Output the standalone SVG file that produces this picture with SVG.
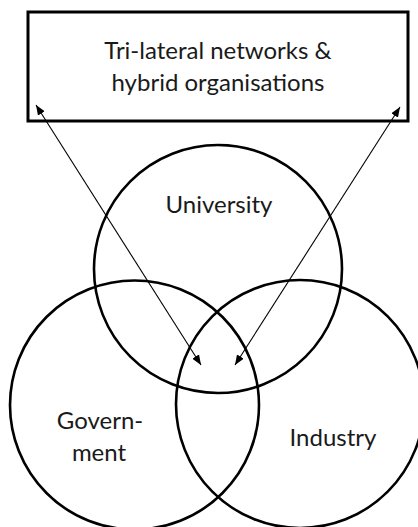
<svg xmlns="http://www.w3.org/2000/svg" width="418" height="527" viewBox="0 0 418 527">
<defs>
<style>
.box{fill:#fff;stroke:#000;stroke-width:3}
.circ{fill:none;stroke:#000;stroke-width:2.6}
.lbl{font-family:Lato,"Liberation Sans",sans-serif;font-size:24px;fill:#1a1a1a;text-anchor:middle}
.arr{stroke:#000;stroke-width:1.1;fill:none;marker-start:url(#ah);marker-end:url(#ah)}
</style>
<marker id="ah" viewBox="0 0 10 8" refX="10" refY="4" markerWidth="10" markerHeight="8" markerUnits="userSpaceOnUse" orient="auto-start-reverse">
<path d="M0,0 L10,4 L0,8 Z" fill="#000"/>
</marker>
</defs>
<rect width="418" height="527" fill="#fff"/>
<g id="node-networks">
<rect class="box" x="28" y="12" width="380" height="109"/>
<text class="lbl" x="218" y="59">Tri-lateral networks &amp;</text>
<text class="lbl" x="218" y="91">hybrid organisations</text>
</g>
<g id="node-university">
<circle class="circ" cx="218" cy="269" r="124"/>
<text class="lbl" x="219" y="213">University</text>
</g>
<g id="node-government">
<circle class="circ" cx="134.5" cy="405" r="124.5"/>
<text class="lbl" x="100" y="429">Govern-</text>
<text class="lbl" x="99" y="461">ment</text>
</g>
<g id="node-industry">
<circle class="circ" cx="300" cy="404" r="124"/>
<text class="lbl" x="333" y="446">Industry</text>
</g>
<g id="connectors">
<line class="arr" x1="36" y1="105" x2="201" y2="365"/>
<line class="arr" x1="400" y1="107" x2="235" y2="365"/>
</g>
</svg>
